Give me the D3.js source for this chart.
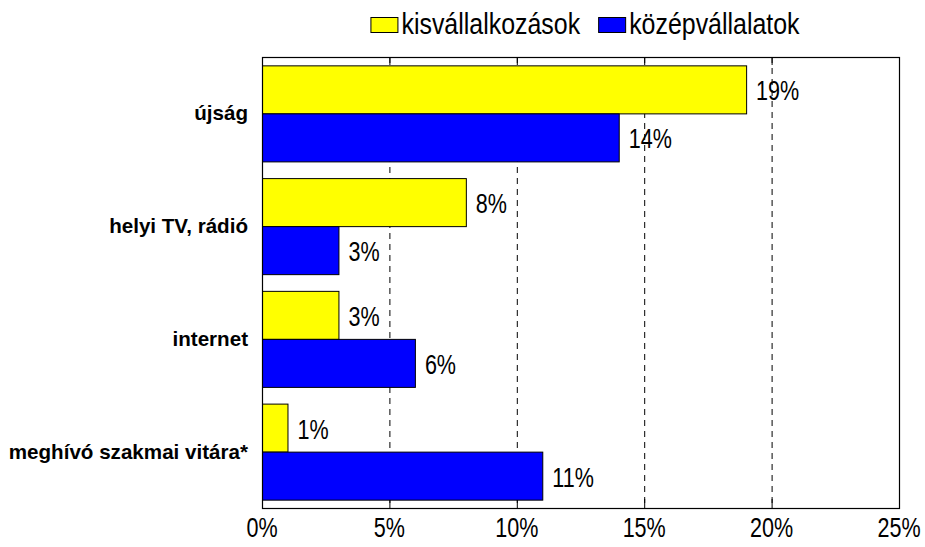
<!DOCTYPE html>
<html>
<head>
<meta charset="utf-8">
<script src="https://cdn.jsdelivr.net/npm/d3@7"></script>
<style>
    body { margin: 0; background: #fff; }
</style>
</head>
<body>
<div id="chart"></div>
<script>
var categories = ["újság", "helyi TV, rádió", "internet", "meghívó szakmai vitára*"];
var seriesNames = ["kisvállalkozások", "középvállalatok"];
var seriesColors = ["#ffff00", "#0000ff"];
var kisValues = [19, 8, 3, 1];
var kozepValues = [14, 3, 6, 11];
var tickValues = [0, 5, 10, 15, 20, 25];

var W = 925, H = 547;
var margin = {top: 57, right: 26, bottom: 39, left: 262};
var plotW = W - margin.left - margin.right;
var plotH = H - margin.top - margin.bottom;

// no narrow font installed, so squeeze Liberation Sans horizontally
var font = "'Liberation Sans', Arial, sans-serif";
var NARROW = 0.77;
var LEGEND_NARROW = 0.86;

function squeeze(sel, fx, fy, k){
    sel.attr("transform", function(d, i){
        return "translate(" + fx(d, i) + "," + fy(d, i) + ") scale(" + k + ",1)";
    });
}

var svg = d3.select("#chart").append("svg:svg")
    .attr("width", W)
    .attr("height", H);

var x = d3.scaleLinear().domain([0, 25]).range([0, plotW]);
var y0 = d3.scaleBand().domain(categories).range([0, plotH]).padding(0);
var y1 = d3.scaleBand().domain(seriesNames).range([0, y0.bandwidth()])
    .paddingInner(0).paddingOuter(0.174);

var plot = svg.append("svg:g")
    .attr("transform", "translate(" + margin.left + "," + margin.top + ")");

// dashed gridlines + little inner ticks
var inner = tickValues.slice(1, -1);
plot.append("svg:g").selectAll("line").data(inner).enter().append("svg:line")
    .attr("x1", function(d){ return x(d) + 0.5; })
    .attr("x2", function(d){ return x(d) + 0.5; })
    .attr("y1", 0)
    .attr("y2", plotH)
    .attr("stroke", "#000")
    .attr("stroke-dasharray", "6,5");
plot.append("svg:g").selectAll("line").data(inner).enter().append("svg:line")
    .attr("x1", function(d){ return x(d) + 0.5; })
    .attr("x2", function(d){ return x(d) + 0.5; })
    .attr("y1", 0)
    .attr("y2", 8)
    .attr("stroke", "#000");
plot.append("svg:g").selectAll("line").data(inner).enter().append("svg:line")
    .attr("x1", function(d){ return x(d) + 0.5; })
    .attr("x2", function(d){ return x(d) + 0.5; })
    .attr("y1", plotH - 9)
    .attr("y2", plotH)
    .attr("stroke", "#000");

var rows = categories.map(function(c, i){
    return [
        {cat: c, series: seriesNames[0], value: kisValues[i], color: seriesColors[0]},
        {cat: c, series: seriesNames[1], value: kozepValues[i], color: seriesColors[1]}
    ];
});

var groups = plot.selectAll("g.group").data(rows).enter().append("svg:g")
    .attr("class", "group")
    .attr("transform", function(d){ return "translate(0," + y0(d[0].cat) + ")"; });

groups.selectAll("rect").data(function(d){ return d; }).enter().append("svg:rect")
    .attr("x", 0.5)
    .attr("y", function(d){ return y1(d.series) + 0.5; })
    .attr("width", function(d){ return x(d.value); })
    .attr("height", y1.bandwidth())
    .attr("fill", function(d){ return d.color; })
    .attr("stroke", "#000")
    .attr("stroke-width", 1);

var vals = groups.selectAll("text.val").data(function(d){ return d; }).enter().append("svg:text")
    .attr("class", "val")
    .attr("font-family", font)
    .attr("font-size", 28)
    .attr("fill", "#000")
    .text(function(d){ return d.value + "%"; });
squeeze(vals,
    function(d){ return x(d.value) + 10; },
    function(d){ return y1(d.series) + y1.bandwidth() / 2 + 11; },
    NARROW);

// frame
plot.append("svg:rect")
    .attr("x", 0.5)
    .attr("y", 0.5)
    .attr("width", plotW)
    .attr("height", plotH)
    .attr("fill", "none")
    .attr("stroke", "#000")
    .attr("stroke-width", 1.2);

// category labels
plot.append("svg:g").selectAll("text").data(categories).enter().append("svg:text")
    .attr("x", -14)
    .attr("y", function(d){ return y0(d) + y0.bandwidth() / 2 + 7; })
    .attr("text-anchor", "end")
    .attr("font-family", font)
    .attr("font-weight", "bold")
    .attr("font-size", 20.6)
    .attr("fill", "#000")
    .text(function(d){ return d; });

// x tick labels
var ticks = plot.append("svg:g").selectAll("text").data(tickValues).enter().append("svg:text")
    .attr("text-anchor", "middle")
    .attr("font-family", font)
    .attr("font-size", 28)
    .attr("fill", "#000")
    .text(function(d){ return d + "%"; });
squeeze(ticks, function(d){ return x(d); }, function(){ return plotH + 29; }, NARROW);

// legend, centred over the plot
var legend = svg.append("svg:g");
var lx = 0;
seriesNames.forEach(function(name, i){
    var item = legend.append("svg:g").attr("transform", "translate(" + lx + ",0)");
    item.append("svg:rect")
        .attr("x", 0.5)
        .attr("y", 17.5)
        .attr("width", 27)
        .attr("height", 15)
        .attr("fill", seriesColors[i])
        .attr("stroke", "#000");
    var t = item.append("svg:text")
        .attr("font-family", font)
        .attr("font-size", 29)
        .attr("fill", "#000")
        .attr("transform", "translate(31,34) scale(" + LEGEND_NARROW + ",1)")
        .text(name);
    lx += 31 + t.node().getComputedTextLength() * LEGEND_NARROW + 18;
});
lx -= 18;
legend.attr("transform", "translate(" + (585 - lx / 2) + ",0)");
</script>
</body>
</html>
